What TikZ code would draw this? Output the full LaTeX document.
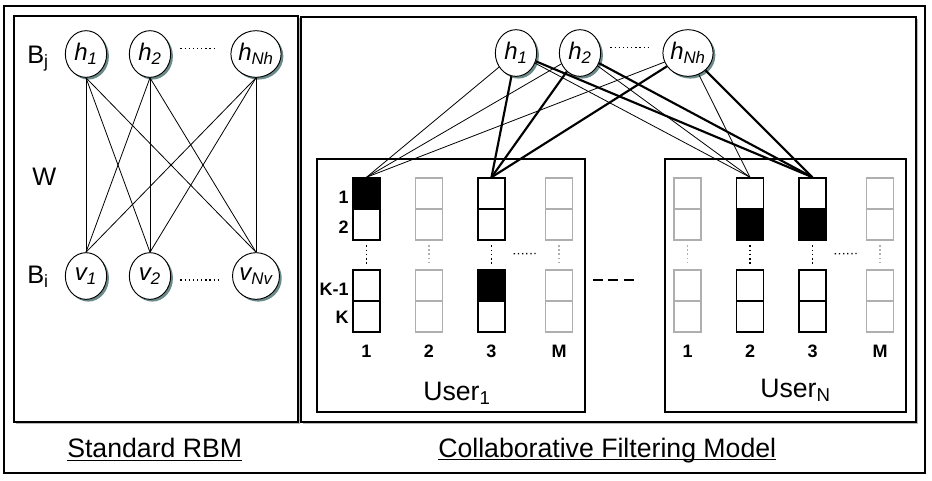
\documentclass[tikz,border=0pt]{standalone}
\usepackage{fontspec}
\setmainfont{Liberation Sans}
\usetikzlibrary{shapes.geometric,shadows}
\definecolor{shadowteal}{RGB}{70,110,110}
\definecolor{cellgray}{RGB}{175,175,175}

\tikzset{
  unit/.style={draw, ellipse, fill=white, line width=0.7pt, minimum width=31pt, minimum height=35pt, inner sep=0pt,
    font=\fontsize{18}{18}\selectfont\itshape,
    drop shadow={shadow xshift=1.7pt, shadow yshift=-1.7pt, fill=shadowteal, opacity=.8}},
  panel/.style={draw, line width=0.8pt, fill=white,
    drop shadow={shadow xshift=1.5pt, shadow yshift=-1.5pt, fill=gray!55, opacity=1}},
  userbox/.style={draw, line width=0.8pt},
  cellhalf/.style={rectangle, minimum width=20.25pt, minimum height=23.25pt, inner sep=0pt},
  rated/.style={draw=black, line width=1.1pt},
  unrated/.style={draw=cellgray, line width=0.8pt},
  vdots/.style={line width=1.4pt, dash pattern=on 1.3pt off 1.8pt, shorten <=3.5pt, shorten >=3.5pt},
  hdots/.style={line width=1pt, dash pattern=on 1pt off 2.1pt},
  thinw/.style={line width=0.6pt},
  thickw/.style={line width=1.6pt},
  biglabel/.style={font=\fontsize{19}{19}\selectfont, inner sep=0pt, anchor=base west},
  titletext/.style={font=\fontsize{20}{20}\selectfont, inner sep=0pt, anchor=base west},
  celllabel/.style={font=\fontsize{13.5}{13.5}\selectfont\bfseries, inner sep=0pt}
}

\begin{document}
\begin{tikzpicture}[x=0.75pt, y=-0.75pt]
  \useasboundingbox (0,0) rectangle (932,480);
  \draw[line width=1.5pt] (4,6) rectangle (925,473);
  \draw[panel] (14,16) rectangle (298,422);
  \draw[panel] (301,17) rectangle (916,422);

  % standard RBM
  \node[unit] (hl1) at (86,54) {h\textsubscript{1}};
  \node[unit] (hl2) at (150,54) {h\textsubscript{2}};
  \node[unit] (hlN) at (256,54) {h\textsubscript{Nh}};
  \node[unit] (vl1) at (86,276) {v\textsubscript{1}};
  \node[unit] (vl2) at (150,276) {v\textsubscript{2}};
  \node[unit] (vlN) at (256,276) {v\textsubscript{Nv}};
  \node[biglabel] (bj) at (27,63) {B\textsubscript{j}};
  \node[biglabel] (w) at (32,185) {W};
  \node[biglabel] (bi) at (27,283) {B\textsubscript{i}};
  \foreach \a in {hl1,hl2,hlN} {\foreach \b in {vl1,vl2,vlN} {\draw[thinw] (\a.south) -- (\b.north);}}
  \draw[hdots] ([xshift=7pt,yshift=4pt]hl2.east) -- ([xshift=-10pt,yshift=4pt]hlN.west);
  \draw[hdots] ([xshift=7pt,yshift=-3pt]vl2.east) -- ([xshift=-10pt,yshift=-3pt]vlN.west);
  \node[titletext] (rbm) at (67,457) {Standard RBM};
  \draw[line width=0.8pt] ([yshift=-2.5pt]rbm.base west) -- ([yshift=-2.5pt]rbm.base east);

  % collaborative filtering model
  \node[unit] (hr1) at (516,53) {h\textsubscript{1}};
  \node[unit] (hr2) at (580,53) {h\textsubscript{2}};
  \node[unit] (hrN) at (688,53) {h\textsubscript{Nh}};
  \draw[hdots] ([xshift=7pt,yshift=4pt]hr2.east) -- ([xshift=-10pt,yshift=4pt]hrN.west);

  \draw[userbox] (317,159) rectangle (585,412);
  \draw[userbox] (665,159) rectangle (906,412);

  \foreach \x/\n/\s/\fa/\fb/\fc/\fd in {366.5/1/rated/black/white/white/white, 429/2/unrated/white/white/white/white,
      491.5/3/rated/white/white/black/white, 559/M/unrated/white/white/white/white} {
    \node[cellhalf,\s,fill=\fa] (A\n-1) at (\x,193.5) {};
    \node[cellhalf,\s,fill=\fb] (A\n-2) at (\x,224.5) {};
    \node[cellhalf,\s,fill=\fc] (A\n-3) at (\x,285.5) {};
    \node[cellhalf,\s,fill=\fd] (A\n-4) at (\x,316.5) {};
    \draw[vdots,\s] (A\n-2.south) -- (A\n-3.north);
    \node[celllabel, anchor=base] (la\n) at (\x,357) {\n};
  }
  \foreach \x/\n/\s/\fa/\fb/\fc/\fd in {687.5/1/unrated/white/white/white/white, 750/2/rated/white/black/white/white,
      812.5/3/rated/white/black/white/white, 880/M/unrated/white/white/white/white} {
    \node[cellhalf,\s,fill=\fa] (B\n-1) at (\x,193.5) {};
    \node[cellhalf,\s,fill=\fb] (B\n-2) at (\x,224.5) {};
    \node[cellhalf,\s,fill=\fc] (B\n-3) at (\x,285.5) {};
    \node[cellhalf,\s,fill=\fd] (B\n-4) at (\x,316.5) {};
    \draw[vdots,\s] (B\n-2.south) -- (B\n-3.north);
    \node[celllabel, anchor=base] (lb\n) at (\x,357) {\n};
  }
  \draw[hdots] ([xshift=6pt,yshift=-9.75pt]A3-2.south east) -- ([xshift=-5pt,yshift=-9.75pt]AM-2.south west);
  \draw[hdots] ([xshift=6pt,yshift=-9.75pt]B3-2.south east) -- ([xshift=-5pt,yshift=-9.75pt]BM-2.south west);

  \node[celllabel, anchor=base east] (r1) at (349,203) {1};
  \node[celllabel, anchor=base east] (r2) at (349,233) {2};
  \node[celllabel, anchor=base east] (rk1) at (349,295) {K-1};
  \node[celllabel, anchor=base east] (rk) at (349,323) {K};

  \foreach \h in {hr1,hr2,hrN} {
    \draw[thinw] (\h) -- (A1-1.north);
    \draw[thickw] (\h) -- (A3-1.north);
    \draw[thinw] (\h) -- (B2-1.north);
    \draw[thickw] (\h) -- (B3-1.north);
  }

  \node[titletext] (u1) at (423,400) {User\textsubscript{1}};
  \node[titletext] (un) at (760,397) {User\textsubscript{N}};
  \draw[line width=1.5pt, dash pattern=on 7.5pt off 4.1pt] (593,280) -- (634,280);

  \node[titletext] (cf) at (438,457) {Collaborative Filtering Model};
  \draw[line width=0.8pt] ([yshift=-2pt]cf.base west) -- ([yshift=-2pt]cf.base east);
\end{tikzpicture}
\end{document}
